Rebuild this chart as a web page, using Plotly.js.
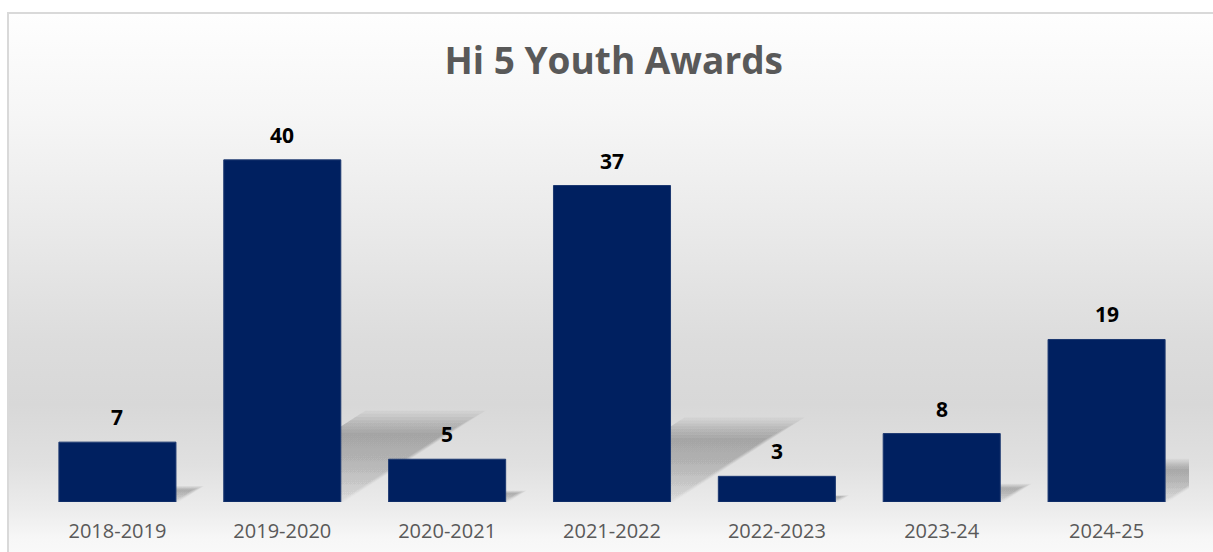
<!DOCTYPE html>
<html>
<head>
<meta charset="utf-8">
<script src="https://cdn.plot.ly/plotly-3.0.1.min.js"></script>
<style>
  html, body { margin: 0; padding: 0; width: 1213px; height: 552px; overflow: hidden; background: #ffffff; }
  #frame {
    position: absolute; left: 7px; top: 12px; width: 1240px; height: 570px;
    box-sizing: border-box; border: 2px solid #d9d9d9;
    background: linear-gradient(to bottom,
      #fefefe 0px, #f6f6f6 100px, #e9e9e9 220px, #dcdcdc 330px,
      #d8d8d8 390px, #e0e0e0 450px, #ececec 495px, #f7f7f7 525px, #fcfcfc 560px);
  }
  #chart { position: absolute; left: 0; top: 0; width: 1213px; height: 552px; }
</style>
</head>
<body>
<div id="frame"></div>
<div id="chart"></div>
<script>
const categories = ['2018-2019', '2019-2020', '2020-2021', '2021-2022', '2022-2023', '2023-24', '2024-25'];
const awards = [7, 40, 5, 37, 3, 8, 19];
const chartTitle = 'Hi 5 Youth Awards';

const idx = categories.map((_, i) => i);
const barWidth = 0.71;
const yMax = 47;

// Soft perspective shadows derived from the bar values (base axes, under the bars)
const traces = [];
const layers = [1.16, 1.12, 1.08, 1.04, 1.0, 0.96, 0.92, 0.88];
awards.forEach((v, i) => {
  layers.forEach(s => {
    const dx = v * 0.0185 * s;
    const dy = v * 0.23 * s;
    const x0 = i - barWidth / 2;
    const x1 = i + barWidth / 2 + (s - 1) * 0.12;
    traces.push({
      x: [x0, x1, x1 + dx, x0 + dx, x0], y: [0, 0, dy, dy, 0],
      xaxis: 'x', yaxis: 'y',
      type: 'scatter', mode: 'lines', fill: 'toself', line: { width: 0 },
      fillcolor: 'rgba(0,0,0,0.025)',
      fillgradient: {
        type: 'vertical', start: 0, stop: dy,
        colorscale: [[0, 'rgba(0,0,0,0.008)'], [0.6, 'rgba(0,0,0,0.03)'], [1, 'rgba(0,0,0,0.04)']]
      },
      hoverinfo: 'skip', showlegend: false
    });
  });
});

traces.push({
  x: idx, y: awards, type: 'bar', width: barWidth, xaxis: 'x2', yaxis: 'y2',
  marker: { color: '#002060', line: { color: '#1c3870', width: 1 } },
  hoverinfo: 'x+y', showlegend: false
});

const annotations = awards.map((v, i) => ({
  x: i, y: v, xref: 'x', yref: 'y', text: String(v), showarrow: false,
  yanchor: 'middle', yshift: 25,
  font: { family: 'Open Sans, sans-serif', size: 21, color: '#000000', weight: 'bold' }
}));

const layout = {
  width: 1213, height: 552,
  margin: { l: 35, r: 24, t: 100, b: 50 },
  paper_bgcolor: 'rgba(0,0,0,0)', plot_bgcolor: 'rgba(0,0,0,0)',
  title: {
    text: '<b>' + chartTitle + '</b>',
    x: 0.506, xanchor: 'center', y: 0.89, yanchor: 'middle', yref: 'container',
    font: { family: 'Open Sans, sans-serif', size: 37, color: '#595959' }
  },
  xaxis: {
    range: [-0.5, categories.length - 0.5], tickmode: 'array', tickvals: idx, ticktext: categories,
    showgrid: false, zeroline: false, showline: false, ticks: '',
    ticklabelstandoff: 15,
    tickfont: { family: 'Open Sans, sans-serif', size: 20, color: '#595959' }, fixedrange: true
  },
  yaxis: { range: [0, yMax], visible: false, showgrid: false, zeroline: false, fixedrange: true },
  xaxis2: { range: [-0.5, categories.length - 0.5], overlaying: 'x', visible: false, fixedrange: true },
  yaxis2: { range: [0, yMax], overlaying: 'y', visible: false, fixedrange: true },
  annotations: annotations,
  showlegend: false
};

Plotly.newPlot('chart', traces, layout, { displayModeBar: false, responsive: false });
</script>
</body>
</html>
